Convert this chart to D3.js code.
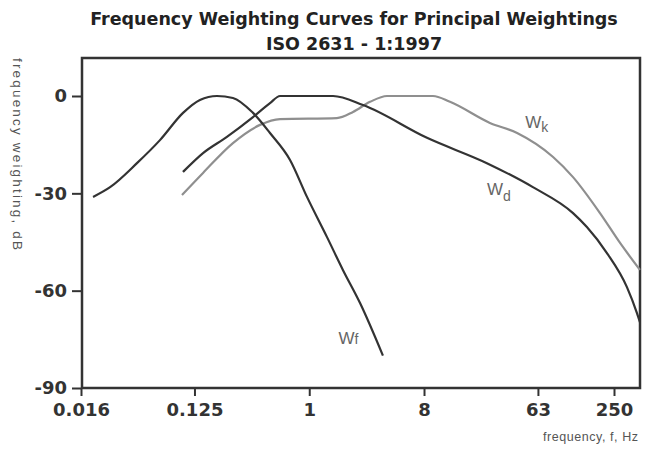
<!DOCTYPE html>
<html>
<head>
<meta charset="utf-8">
<script src="https://cdn.jsdelivr.net/npm/d3@7"></script>
<style>
  body { margin: 0; background: #fff; }
  .tick text { font-family: "DejaVu Sans", sans-serif; font-weight: bold; font-size: 18px; fill: #333; }
  .tick line { stroke: #333; stroke-width: 2; }
</style>
</head>
<body>
<div id="chart"></div>
<script>
const width = 651,
  height = 452;

// tick labels
const freqTicks = [0.016, 0.125, 1, 8, 63, 250];
const dbTicks = [0, -30, -60, -90];

// Wk
const wkFreq = [0.0997, 0.146, 0.251, 0.41, 0.589, 1.65, 2.21, 3.01, 4.09, 9.41, 12.8, 26.4, 43.2, 82.9, 119, 194, 279, 400];
const wkDb = [-30.5, -23.7, -14.5, -8.9, -7.1, -6.8, -4.9, -1.8, 0, 0, -1.8, -8.3, -11.4, -18.8, -25.0, -36.1, -45.3, -53.6];
// Wd
const wdFreq = [0.1016, 0.146, 0.225, 0.361, 0.491, 0.589, 1.54, 2.65, 8.44, 25.0, 57.5, 119, 153, 220, 316, 379, 400];
const wdDb = [-23.4, -17.6, -12.6, -6.5, -2.2, 0, 0, -2.8, -12.9, -20.7, -28.1, -36.1, -40.4, -48.4, -58.9, -66.9, -69.7];
// Wf
const wfFreq = [0.0199, 0.0271, 0.0441, 0.0669, 0.1016, 0.138, 0.188, 0.251, 0.361, 0.491, 0.706, 0.96, 1.38, 1.84, 2.51, 3.8];
const wfDb = [-31.1, -28.1, -20.7, -13.6, -5.2, -1.2, 0, -0.6, -5.2, -11.4, -19.7, -31.1, -43.5, -53.6, -63.8, -80];

const x = d3.scaleLog().domain([0.016, 250]).range([81, 614]);
const y = d3.scaleLinear().domain([-90, 0]).range([388, 96]);

const svg = d3
  .select("#chart")
  .append("svg")
  .attr("width", width)
  .attr("height", height);

// title
svg.append("text")
  .attr("x", 354).attr("y", 25)
  .attr("text-anchor", "middle")
  .style("font-family", "DejaVu Sans, sans-serif")
  .style("font-weight", "bold")
  .style("font-size", "17.5px")
  .attr("fill", "#222")
  .text("Frequency Weighting Curves for Principal Weightings");
svg.append("text")
  .attr("x", 354).attr("y", 50)
  .attr("text-anchor", "middle")
  .style("font-family", "DejaVu Sans, sans-serif")
  .style("font-weight", "bold")
  .style("font-size", "17.5px")
  .attr("fill", "#222")
  .text("ISO 2631 - 1:1997");

// frame
svg.append("rect")
  .attr("x", 82).attr("y", 58)
  .attr("width", 558).attr("height", 330)
  .attr("fill", "none")
  .attr("stroke", "#333")
  .attr("stroke-width", 2.5);

const yAxis = svg.append("g")
  .attr("transform", "translate(82,0)")
  .call(d3.axisLeft(y).tickValues(dbTicks).tickFormat(d => String(d)).tickSize(10).tickPadding(5));
yAxis.select(".domain").remove();

const xAxis = svg.append("g")
  .attr("transform", "translate(0,388)")
  .call(d3.axisBottom(x).tickValues(freqTicks).tickFormat(d => String(d)).tickSize(8).tickPadding(7));
xAxis.select(".domain").remove();

// axis titles
svg.append("text")
  .attr("x", 638).attr("y", 441)
  .attr("text-anchor", "end")
  .attr("textLength", 95)
  .attr("lengthAdjust", "spacing")
  .style("font-family", "Liberation Sans, Arial, sans-serif")
  .style("font-size", "12.5px")
  .attr("fill", "#555")
  .text("frequency, f, Hz");
svg.append("text")
  .attr("transform", "translate(13,58) rotate(90)")
  .attr("textLength", 192)
  .attr("lengthAdjust", "spacing")
  .style("font-family", "Liberation Sans, Arial, sans-serif")
  .style("font-size", "13.5px")
  .attr("fill", "#555")
  .text("frequency weighting, dB");

// curves
const line = d3.line()
  .x(d => x(d[0]))
  .y(d => y(d[1]))
  .curve(d3.curveMonotoneX);

const series = [
  { f: wkFreq, v: wkDb, color: "#8f8f8f" },
  { f: wdFreq, v: wdDb, color: "#333" },
  { f: wfFreq, v: wfDb, color: "#333" },
];

series.forEach(function (s) {
  svg.append("path")
    .datum(s.f.map((f, i) => [f, s.v[i]]))
    .attr("fill", "none")
    .attr("stroke", s.color)
    .attr("stroke-width", 2.2)
    .attr("stroke-linejoin", "round")
    .attr("d", line);
});

// curve labels
function label(px, py, main, sub, dy) {
  const t = svg.append("text")
    .attr("x", px).attr("y", py)
    .style("font-family", "Liberation Sans, Arial, sans-serif")
    .style("font-size", "17px")
    .attr("fill", "#666");
  t.append("tspan").text(main);
  t.append("tspan").attr("dy", dy).style("font-size", "14px").text(sub);
}
label(x(50), y(-10), "W", "k", 4);
label(x(25), y(-30.5), "W", "d", 6);
label(x(1.7), y(-76.5), "W", "f", 0);
</script>
</body>
</html>
